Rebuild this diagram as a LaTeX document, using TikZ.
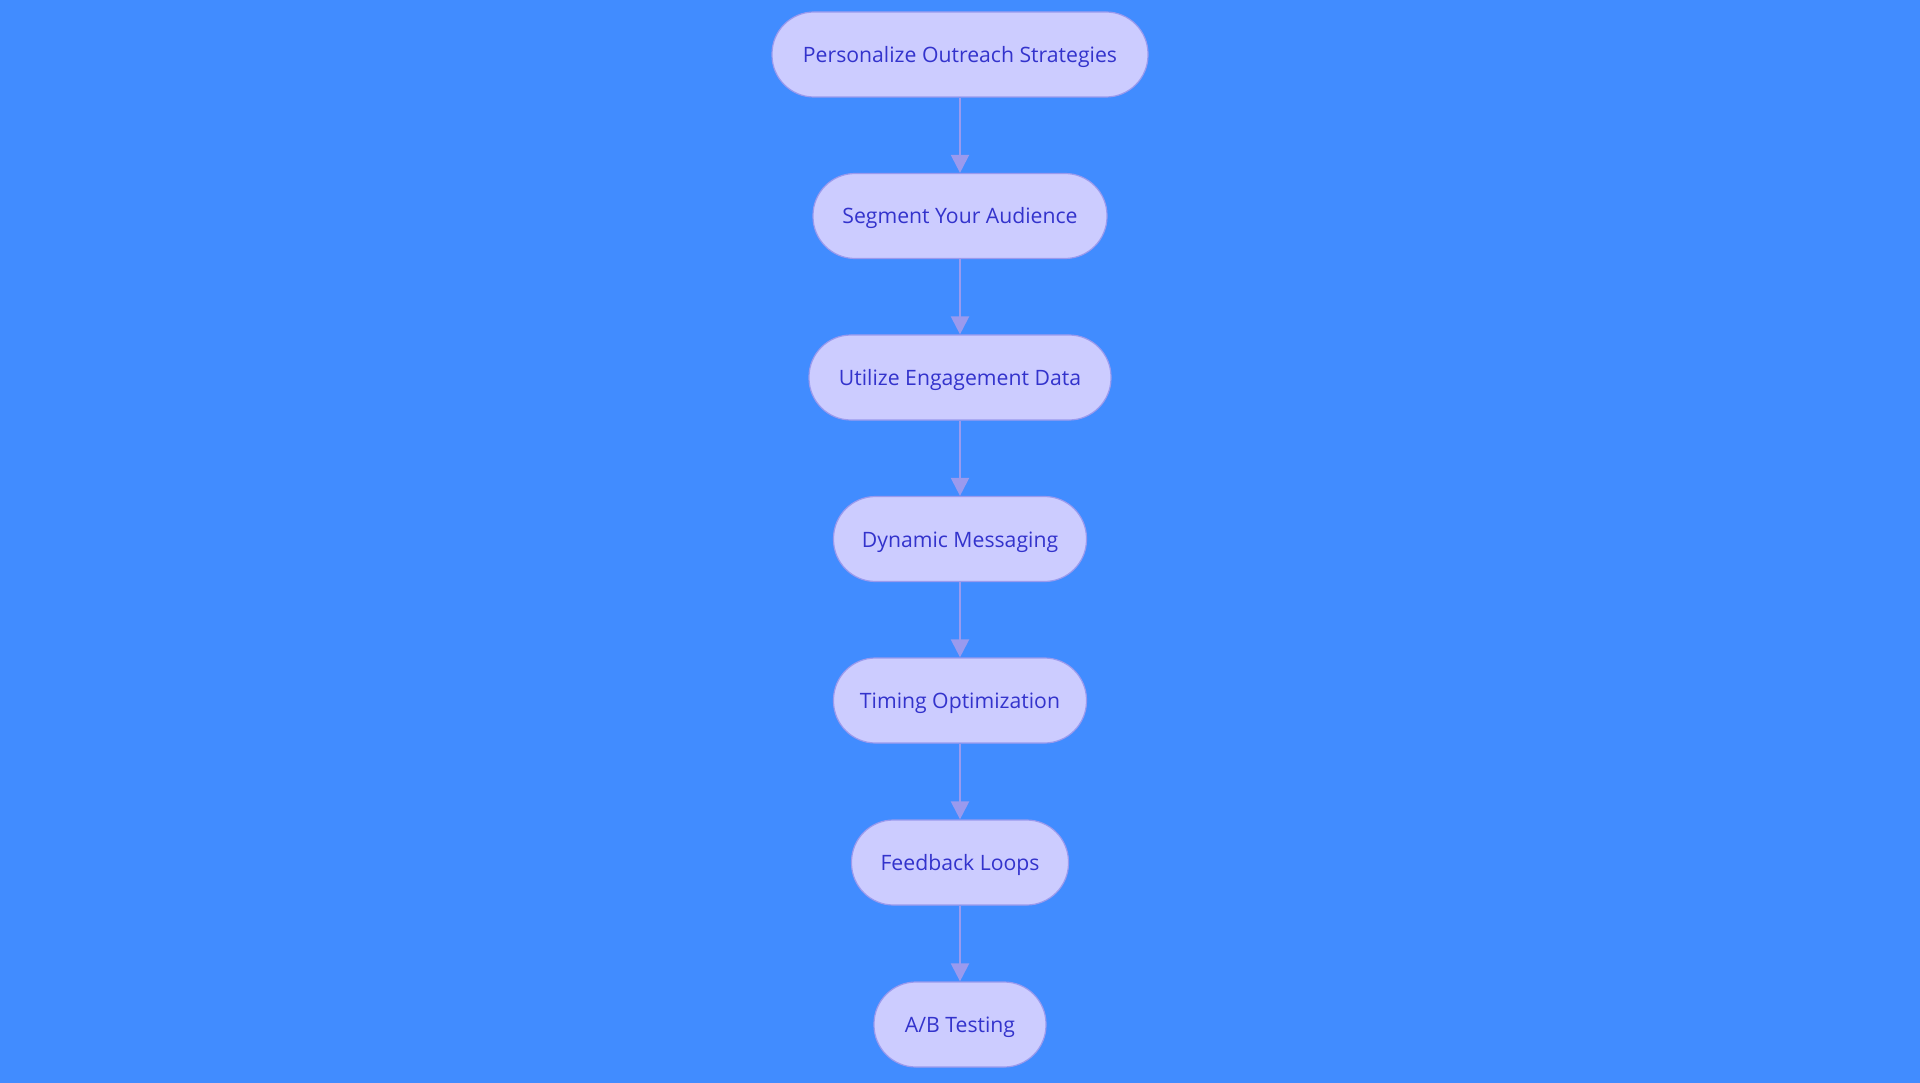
\documentclass[tikz,border=0pt]{standalone}
\usepackage{fontspec}
\setmainfont{Open Sans}
\usetikzlibrary{arrows.meta}
\definecolor{bgc}{HTML}{418CFF}
\definecolor{nfill}{HTML}{CCCCFF}
\definecolor{nline}{HTML}{9A9AEE}
\definecolor{ntext}{HTML}{3333CC}
\tikzset{
  stepbox/.style={draw=nline, line width=1.2pt, fill=nfill, text=ntext,
    rounded corners=42pt, minimum height=85pt, inner sep=0pt,
    text height=16pt, text depth=0pt,
    font=\fontsize{21.2}{24}\selectfont},
  flow/.style={draw=nline, line width=2.2pt, -{Triangle[width=18pt,length=18pt]}}
}
\begin{document}
\begin{tikzpicture}[x=1pt,y=-1pt]
\fill[bgc] (0,0) rectangle (1920,1083);
\useasboundingbox (0,0) rectangle (1920,1083);
\node[stepbox, minimum width=376pt] (n1) at (960,54.5) {Personalize Outreach Strategies};
\node[stepbox, minimum width=294pt] (n2) at (960,216) {Segment Your Audience};
\node[stepbox, minimum width=302pt] (n3) at (960,377.5) {Utilize Engagement Data};
\node[stepbox, minimum width=253pt] (n4) at (960,539) {Dynamic Messaging};
\node[stepbox, minimum width=253pt] (n5) at (960,700.5) {Timing Optimization};
\node[stepbox, minimum width=217pt] (n6) at (960,862.5) {Feedback Loops};
\node[stepbox, minimum width=172pt] (n7) at (960,1024.5) {A/B Testing};
\foreach \a/\b in {n1/n2,n2/n3,n3/n4,n4/n5,n5/n6,n6/n7}
  \draw[flow] (\a) -- (\b);
\end{tikzpicture}
\end{document}
